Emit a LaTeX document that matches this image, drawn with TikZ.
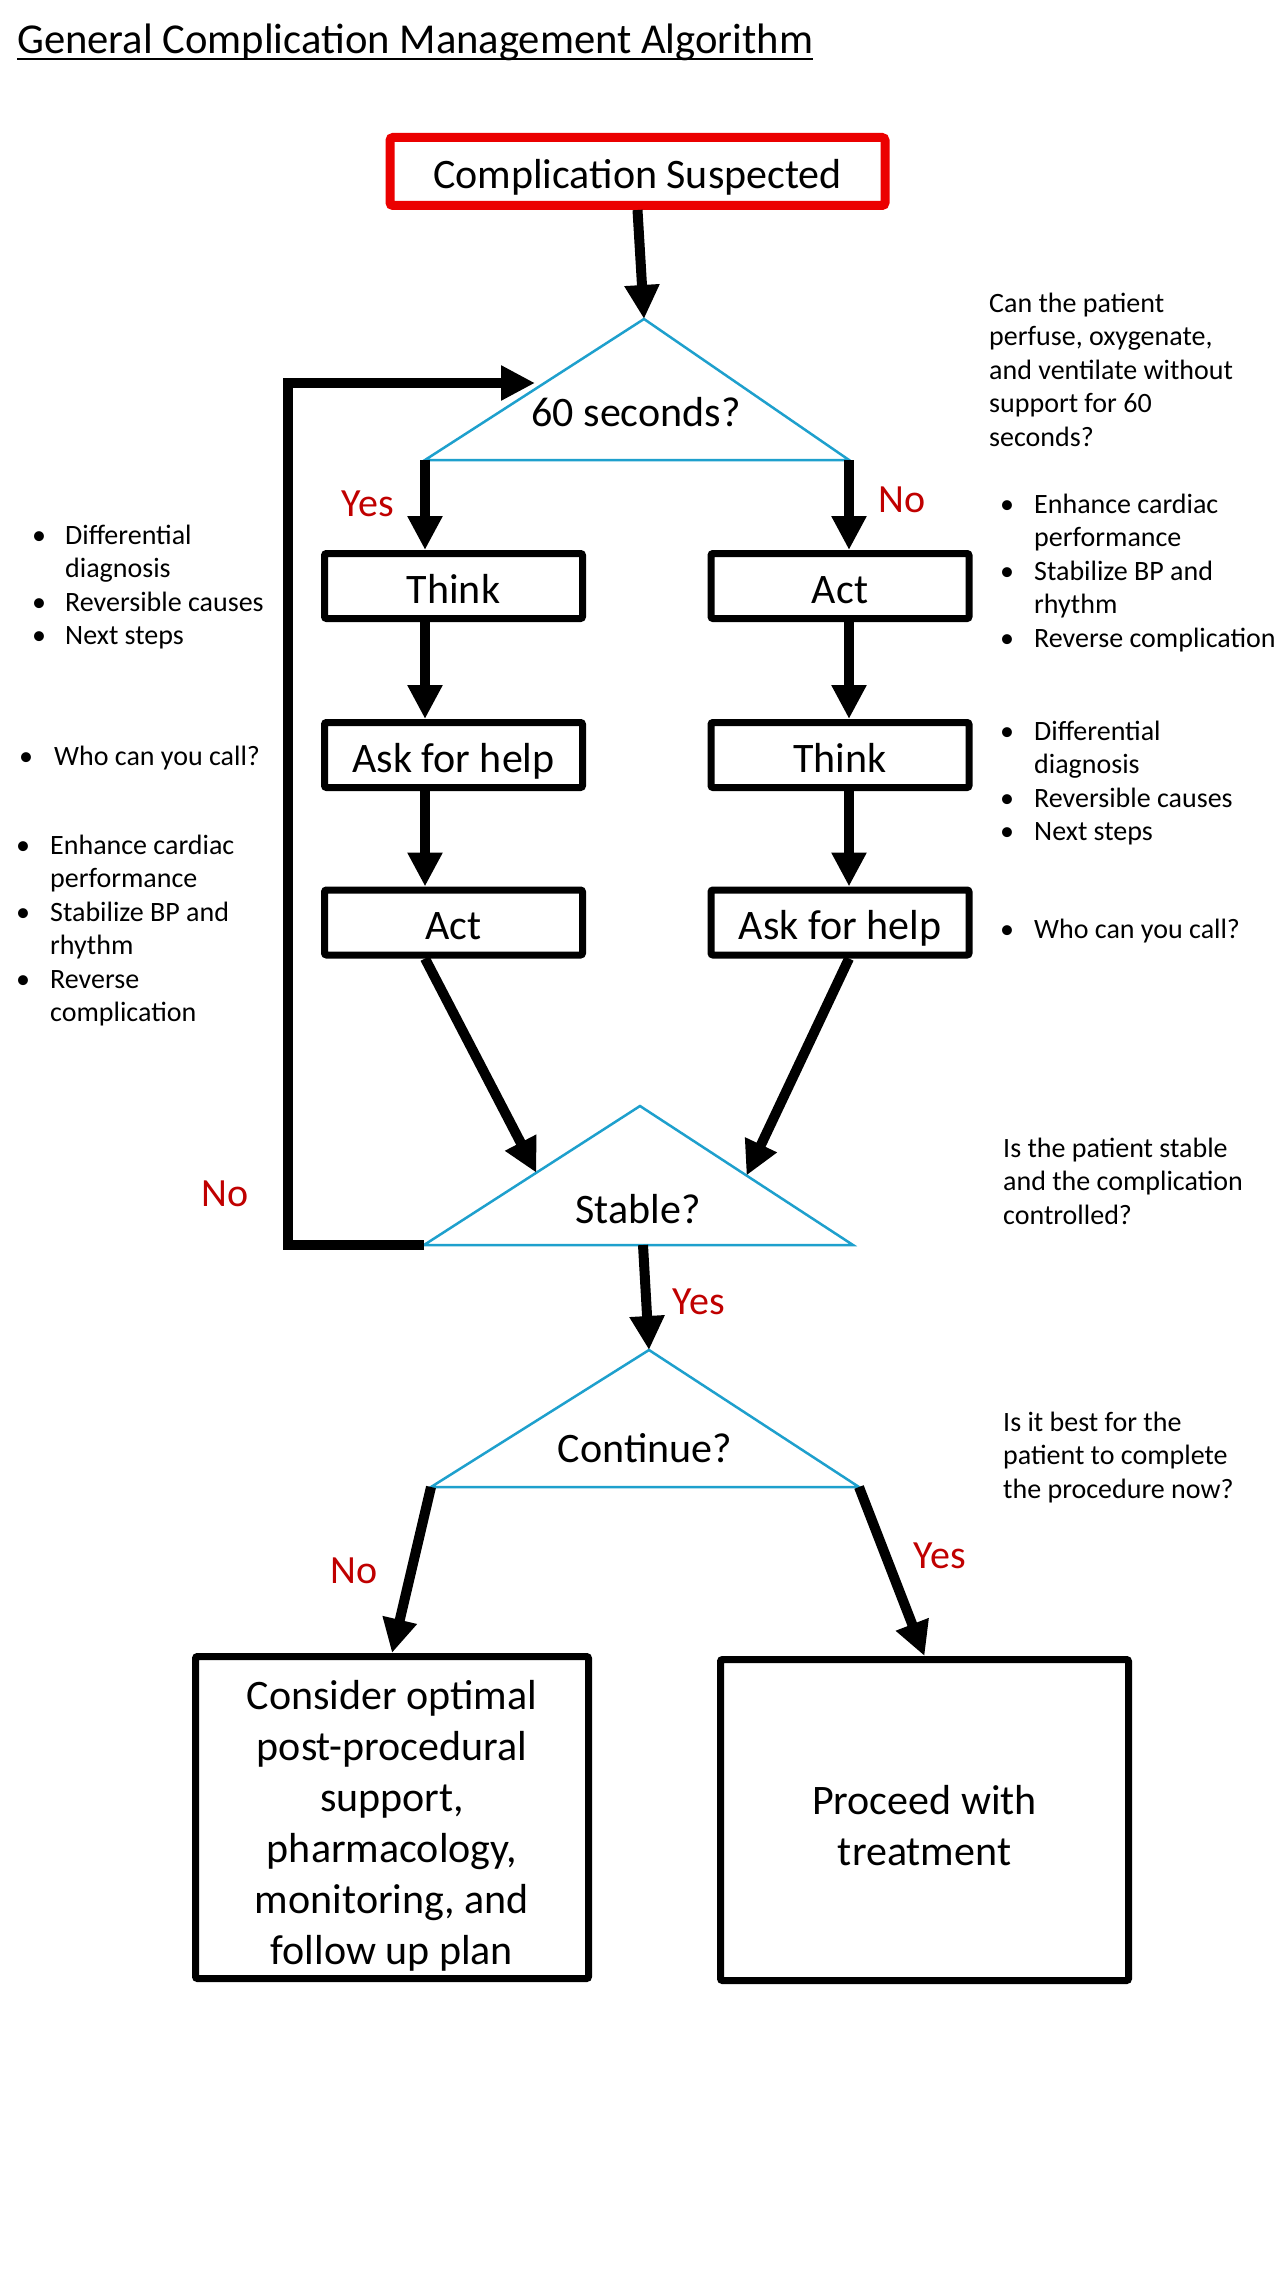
\documentclass[tikz,border=0pt]{standalone}
\usepackage{fontspec}
\setmainfont{Carlito}
\usetikzlibrary{arrows.meta,calc}
\definecolor{boxred}{RGB}{235,0,0}
\definecolor{lblred}{RGB}{192,0,0}
\definecolor{tricyan}{RGB}{30,160,205}
\newcommand\sidebul[1]{\makebox[#1][l]{\makebox[10bp][c]{\textbullet}}}
\tikzset{
  big/.style={font=\fontsize{42bp}{51bp}\selectfont},
  stepbox/.style={draw, line width=7bp, rounded corners=2bp, minimum width=258bp, minimum height=65bp, inner sep=0pt, text height=34bp, text depth=0bp, big},
  bigbox/.style={draw, line width=7bp, rounded corners=2bp, inner sep=0pt, align=center, big},
  flow/.style={line width=10bp, line join=miter, -{Triangle[length=34bp,width=33bp]}},
  tri/.style={draw=tricyan, line width=2.5bp, line join=miter},
  lbl/.style={text=lblred, font=\fontsize{40bp}{48bp}\selectfont, inner sep=0pt},
  side/.style={font=\fontsize{28bp}{33.5bp}\selectfont, inner sep=0pt, anchor=base west},
}
\begin{document}
\begin{tikzpicture}[x=1bp,y=-1bp]
\fill[white] (0,0) rectangle (1280,2275);
\useasboundingbox (0,0) rectangle (1280,2275);

% title
\node[anchor=base west, inner sep=0pt, font=\fontsize{42.6bp}{51bp}\selectfont] (title) at (17,54) {General Complication Management Algorithm};
\draw[line width=2.5bp] ([yshift=-5bp]title.base west) -- ([yshift=-5bp]title.base east);

% start box
\node[draw=boxred, line width=9bp, rounded corners=3bp, minimum width=495bp, minimum height=68bp, inner sep=0pt, text height=34bp, text depth=0bp, big] (cs) at (637.5,171.5) {Complication Suspected};

% triangle 1
\coordinate (t1T) at (644,319);
\coordinate (t1L) at (425,460);
\coordinate (t1R) at (849,460);
\draw[tri] (t1T) -- (t1R) -- (t1L) -- cycle;
\node[big, inner sep=0pt] (t1) at (636,412) {60 seconds?};

% stable triangle
\coordinate (sT) at (640,1106);
\coordinate (sL) at (424,1245);
\coordinate (sR) at (853,1245);
\coordinate (sB) at (643,1245);
\draw[tri] (sT) -- (sR) -- (sL) -- cycle;
\node[big, inner sep=0pt] (st) at (638,1209) {Stable?};

% continue triangle
\coordinate (cT) at (649,1350);
\coordinate (cL) at (431,1487);
\coordinate (cR) at (859,1487);
\draw[tri] (cT) -- (cR) -- (cL) -- cycle;
\node[big, inner sep=0pt] (ct) at (645,1448) {Continue?};

% step boxes
\node[stepbox] (thinkL) at (453.5,586) {Think};
\node[stepbox] (askL) at (453.5,755) {Ask for help};
\node[stepbox] (actL) at (453.5,922.5) {Act};
\node[stepbox] (actR) at (840,586) {Act};
\node[stepbox] (thinkR) at (840,755) {Think};
\node[stepbox] (askR) at (840,922.5) {Ask for help};

% final boxes
\node[bigbox, minimum width=393bp, minimum height=322bp] (consider) at (392,1817.5)
  {\rule{0pt}{45bp}Consider optimal\\post-procedural\\support,\\pharmacology,\\monitoring, and\\follow up plan};
\node[bigbox, minimum width=408bp, minimum height=321bp] (proceed) at (924.5,1820)
  {\rule{0pt}{40bp}Proceed with\\treatment};

% connectors
\draw[flow] (cs.south) -- (t1T);
\draw[flow] (t1L) -- (t1L |- thinkL.north);
\draw[flow] (t1R) -- (t1R |- actR.north);
\draw[flow] (thinkL.south -| t1L) -- (askL.north -| t1L);
\draw[flow] (askL.south -| t1L) -- (actL.north -| t1L);
\draw[flow] (actR.south -| t1R) -- (thinkR.north -| t1R);
\draw[flow] (thinkR.south -| t1R) -- (askR.north -| t1R);
\coordinate (sInL) at ($(sL)!0.52!(sT)$);
\coordinate (sInR) at ($(sR)!0.5!(sT)$);
\draw[flow] (actL.south -| t1L) -- (sInL);
\draw[flow] (askR.south -| t1R) -- (sInR);
\coordinate (loopBL) at (288,1245);
\coordinate (loopTL) at (288,383);
\coordinate (loopIn) at (535,383);
\draw[flow] (sL) -- (loopBL) -- (loopTL) -- (loopIn);
\draw[flow] (sB) -- (cT);
\draw[flow] (cL) -- (consider.north);
\draw[flow] (cR) -- (proceed.north);

% labels
\node[lbl] (yes1) at (368,504) {Yes};
\node[lbl] (no1) at (902,500) {No};
\node[lbl] (no2) at (225,1194) {No};
\node[lbl] (yes2) at (699,1302) {Yes};
\node[lbl] (no3) at (354,1571) {No};
\node[lbl] (yes3) at (940,1556) {Yes};

% side notes right
\node[side] (q1) at (989,312) {\begin{tabular}[t]{@{}l@{}}Can the patient\\perfuse, oxygenate,\\and ventilate without\\support for 60\\seconds?\end{tabular}};
\node[side] (rA) at (1002,513) {\begin{tabular}[t]{@{}l@{}l@{}}\sidebul{32bp}&Enhance cardiac\\&performance\\\sidebul{32bp}&Stabilize BP and\\&rhythm\\\sidebul{32bp}&Reverse complication\end{tabular}};
\node[side] (rB) at (1002,740) {\begin{tabular}[t]{@{}l@{}l@{}}\sidebul{32bp}&Differential\\&diagnosis\\\sidebul{32bp}&Reversible causes\\\sidebul{32bp}&Next steps\end{tabular}};
\node[side] (rC) at (1002,938) {\begin{tabular}[t]{@{}l@{}l@{}}\sidebul{32bp}&Who can you call?\end{tabular}};
\node[side] (q2) at (1003,1157) {\begin{tabular}[t]{@{}l@{}}Is the patient stable\\and the complication\\controlled?\end{tabular}};
\node[side] (q3) at (1003,1431) {\begin{tabular}[t]{@{}l@{}}Is it best for the\\patient to complete\\the procedure now?\end{tabular}};

% side notes left
\node[side] (lA) at (34,544) {\begin{tabular}[t]{@{}l@{}l@{}}\sidebul{31bp}&Differential\\&diagnosis\\\sidebul{31bp}&Reversible causes\\\sidebul{31bp}&Next steps\end{tabular}};
\node[side] (lB) at (21,765) {\begin{tabular}[t]{@{}l@{}l@{}}\sidebul{33bp}&Who can you call?\end{tabular}};
\node[side] (lC) at (18,854) {\begin{tabular}[t]{@{}l@{}l@{}}\sidebul{32bp}&Enhance cardiac\\&performance\\\sidebul{32bp}&Stabilize BP and\\&rhythm\\\sidebul{32bp}&Reverse\\&complication\end{tabular}};
\end{tikzpicture}
\end{document}
